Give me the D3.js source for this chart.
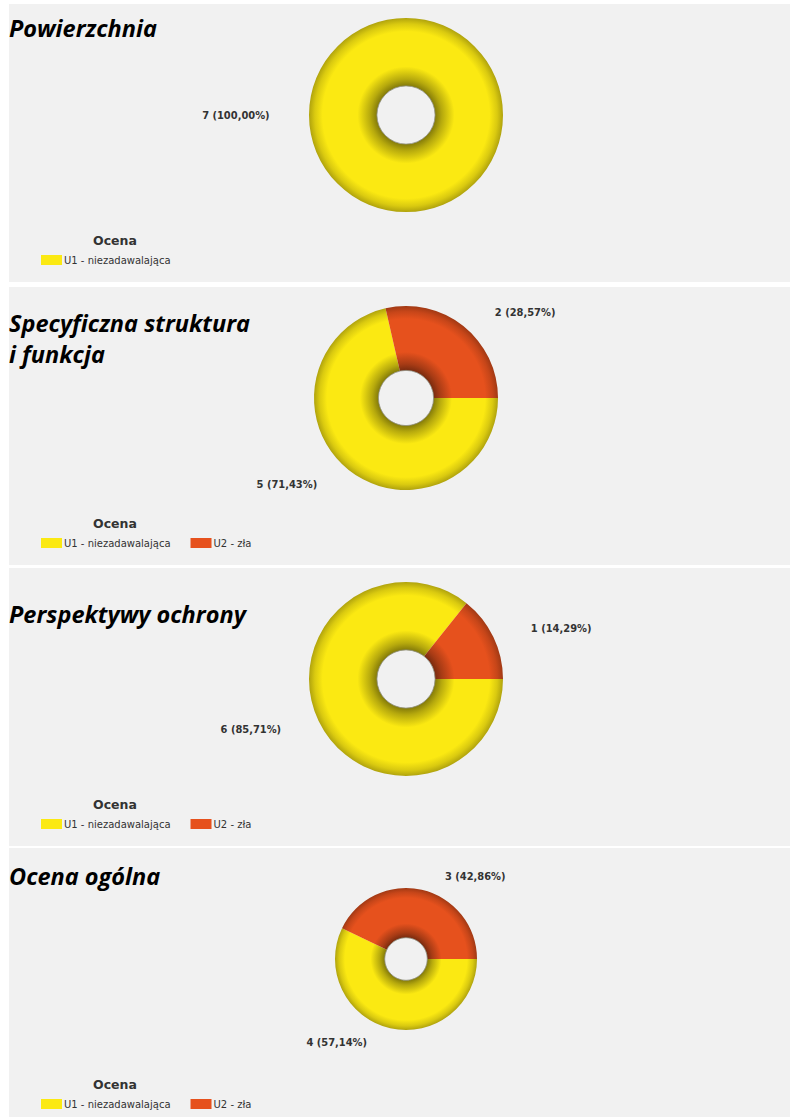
<!DOCTYPE html>
<html>
<head>
<meta charset="utf-8">
<script src="https://cdn.jsdelivr.net/npm/d3@7"></script>
<style>
  body { margin: 0; background: #fff; }
  svg { display: block; }
</style>
</head>
<body>
<svg id="chart" width="790" height="1117"></svg>
<script>
// chart data
const panelTitles = [
  ['Powierzchnia'],
  ['Specyficzna struktura', 'i funkcja'],
  ['Perspektywy ochrony'],
  ['Ocena ogólna']
];
const categories = ['U1 - niezadawalająca', 'U2 - zła'];
const u1Counts = [7, 5, 6, 4];
const u2Counts = [0, 2, 1, 3];
const legendTitle = 'Ocena';

// layout per panel (not data)
const panelTop = [4, 287, 568, 848];
const outerR = [97, 92, 97, 71];
const titleBaseline = [33, 45, 55, 37];
const panelHeight = 278;
const colors = ['#fbe912', '#e6511d'];

const svg = d3.select('#chart');
const defs = svg.append('defs');

const color = d3.scaleOrdinal().domain(categories).range(colors);

const pie = d3.pie()
  .value(d => d.value)
  .sort(null)
  .startAngle(Math.PI / 2)
  .endAngle(Math.PI / 2 + 2 * Math.PI);

const fmt = v => d3.format('.2f')(v).replace('.', ',');

panelTitles.forEach((title, i) => {
  const top = panelTop[i];
  const g = svg.append('g').attr('transform', `translate(0,${top})`);

  g.append('rect')
    .attr('x', 9).attr('y', 0)
    .attr('width', 781).attr('height', panelHeight)
    .attr('fill', '#f1f1f1');

  // title
  const t = g.append('text')
    .attr('x', 9)
    .attr('y', titleBaseline[i])
    .style('font-family', '"Open Sans", sans-serif')
    .style('font-weight', 'bold')
    .style('font-style', 'italic')
    .style('font-size', '23.5px')
    .attr('fill', '#000');
  title.forEach((line, j) => {
    t.append('tspan').attr('x', 9).attr('dy', j === 0 ? 0 : 31).text(line);
  });

  const values = [u1Counts[i], u2Counts[i]];
  const total = d3.sum(values);
  const rows = categories.map((c, k) => ({ cat: c, value: values[k] })).filter(d => d.value > 0);

  const R = outerR[i];
  const r0 = R * 0.3;
  const cx = 406, cy = 111;

  const arc = d3.arc().innerRadius(r0).outerRadius(R);
  const donut = g.append('g').attr('transform', `translate(${cx},${cy})`);

  // radial shading, dark on both ring edges
  rows.forEach((d, k) => {
    const base = d3.color(color(d.cat));
    const k0 = r0 / R;
    const grad = defs.append('radialGradient')
      .attr('id', `grad-${i}-${k}`)
      .attr('gradientUnits', 'userSpaceOnUse')
      .attr('cx', 0).attr('cy', 0).attr('r', R);
    const stops = [
      [0, base.darker(1.8)],
      [k0, base.darker(1.8)],
      [k0 + 0.07, base.darker(0.9)],
      [k0 + 0.2, base],
      [0.86, base],
      [0.94, base.darker(0.4)],
      [1, base.darker(1.0)]
    ];
    stops.forEach(s => grad.append('stop').attr('offset', s[0]).attr('stop-color', s[1].formatHex()));
  });

  const arcs = pie(rows);
  donut.selectAll('path.slice')
    .data(arcs)
    .enter()
    .append('path')
    .attr('class', 'slice')
    .attr('d', arc)
    .attr('fill', (d, k) => `url(#grad-${i}-${k})`);

  donut.append('circle')
    .attr('r', r0)
    .attr('fill', 'none')
    .attr('stroke', '#8f8f80')
    .attr('stroke-width', 0.8);

  // slice labels
  donut.selectAll('text.lbl')
    .data(arcs)
    .enter()
    .append('text')
    .attr('class', 'lbl')
    .each(function (d) {
      const mid = (d.startAngle + d.endAngle) / 2;
      const side = Math.sin(mid) >= 0 ? 1 : -1;
      const lr = R * 1.2;
      d3.select(this)
        .attr('x', Math.sin(mid) * lr + side * 20)
        .attr('y', -Math.cos(mid) * lr)
        .attr('text-anchor', side > 0 ? 'start' : 'end');
    })
    .attr('dy', '0.35em')
    .style('font-family', '"DejaVu Sans Condensed", "DejaVu Sans", sans-serif')
    .style('font-weight', 'bold')
    .style('font-size', '11px')
    .attr('fill', '#333')
    .text(d => `${d.data.value} (${fmt(d.data.value / total * 100)}%)`);

  // legend
  const bottom = panelHeight;
  g.append('text')
    .attr('x', 115)
    .attr('y', bottom - 37)
    .attr('text-anchor', 'middle')
    .style('font-family', '"DejaVu Sans", sans-serif')
    .style('font-weight', 'bold')
    .style('font-size', '12.5px')
    .attr('fill', '#333')
    .text(legendTitle);

  let lx = 41;
  rows.forEach(d => {
    g.append('rect')
      .attr('x', lx).attr('y', bottom - 27)
      .attr('width', 21).attr('height', 10)
      .attr('fill', color(d.cat));
    const txt = g.append('text')
      .attr('x', lx + 23)
      .attr('y', bottom - 18)
      .style('font-family', '"DejaVu Sans", sans-serif')
      .style('font-size', '10px')
      .attr('fill', '#333')
      .text(d.cat);
    lx = lx + 23 + txt.node().getComputedTextLength() + 20;
  });
});
</script>
</body>
</html>
